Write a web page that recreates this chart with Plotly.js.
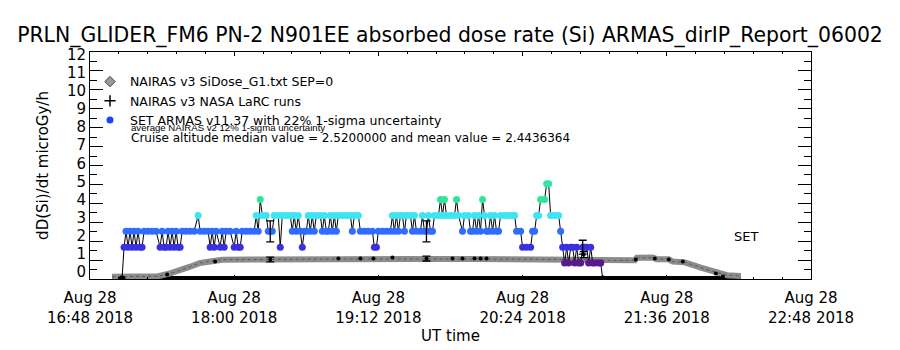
<!DOCTYPE html>
<html>
<head>
<meta charset="utf-8">
<script src="https://cdn.plot.ly/plotly-3.0.1.min.js"></script>
<style>html,body{margin:0;padding:0;background:#fff;}#chart{width:900px;height:350px;}</style>
</head>
<body>
<div id="chart"></div>
<script>
// ---- data (times are minutes after 2018-08-28 16:48 UT) ----
const setMin = [16,17,18,19,20,21,22,23,24,25,26,27,29,31,33,35,36,37,38,39,40,41,42,43,44,45,46,48,50,52,54,55,57,59,60,61,62,63,65,66,67,68,70,72,73,74,75,76,78,80,82,83,84,85,86,88,89,90,91,92,94,95,96,98,100,101,102,103,104,105,106,107,108,109,110,111,112,113,115,116,117,118,119,120,121,122,123,124,126,128,130,131,132,134,135,137,139,141,142,143,144,146,148,150,151,152,153,154,155,156,157,158,160,161,162,163,165,166,167,168,169,170,171,172,174,175,176,177,178,180,182,183,184,186,187,189,190,191,192,193,194,195,196,197,198,199,200,201,202,203,204,205,207,209,211,212,213,215,216,218,220,221,222,223,224,225,227,228,229,230,232,234,235,236,237,238,239,240,241,242,243,244,245,246,247,248,249,250,251,252,254,255,256];
const setDose = [0,1.68,2.52,1.68,2.52,1.68,2.52,1.68,2.52,1.68,1.68,2.52,2.52,2.52,2.52,1.68,2.52,1.68,1.68,2.52,1.68,2.52,1.68,2.52,1.68,1.68,2.52,2.52,2.52,2.52,3.36,2.52,2.52,2.52,1.68,2.52,1.68,2.52,1.68,2.52,1.68,2.52,2.52,1.68,2.52,1.68,1.68,2.52,2.52,2.52,2.52,3.36,2.52,4.2,3.36,3.36,2.52,2.52,2.52,3.36,3.36,1.68,3.36,3.36,3.36,2.52,3.36,2.52,3.36,2.52,1.68,2.52,2.52,3.36,2.52,3.36,2.52,3.36,3.36,2.52,3.36,2.52,2.52,3.36,2.52,3.36,2.52,3.36,3.36,3.36,3.36,2.52,3.36,3.36,2.52,2.52,2.52,2.52,1.68,1.68,2.52,2.52,2.52,2.52,3.36,2.52,3.36,2.52,3.36,3.36,2.52,3.36,3.36,2.52,3.36,2.52,2.52,3.36,2.52,2.52,3.36,2.52,2.52,3.36,3.36,4.2,3.36,4.2,3.36,3.36,3.36,4.2,3.36,2.52,3.36,3.36,2.52,2.52,3.36,2.52,3.36,2.52,4.2,3.36,2.52,2.52,3.36,2.52,3.36,2.52,2.52,3.36,3.36,3.36,3.36,3.36,2.52,2.52,1.68,1.68,1.68,2.52,2.52,3.36,3.36,4.2,4.2,5.04,5.04,3.36,3.36,3.36,2.52,1.68,0.84,1.68,0.84,1.68,1.68,0.84,1.68,0.84,0.84,1.68,1.68,1.68,0.84,1.68,0.84,0.84,0.84,0.84,0];
const setErrMin = [90,168,246];
const setErrDose = [2.52,2.52,1.68];
const groundMin = [11,325];
const groundDose = [0.08,0.08];
const nairasMin = [11,20,30,34,40,44,50,55,60,66,80,100,130,160,190,220,250,260,272,273,281,283,289,291,297,305,311,315,318,325];
const nairasDose = [0.12,0.12,0.13,0.15,0.3,0.42,0.65,0.85,0.95,1.02,1.03,1.05,1.06,1.06,1.06,1.05,1.02,0.98,0.99,1.12,1.13,1.05,1.04,0.92,0.88,0.6,0.4,0.3,0.2,0.16];
const larcMin = [38.5,62.5,90,124,135,141.5,151,168,181,186,192,195,198,246.5,272.5,282,289,296,312.5,316];
const larcDose = [0.24,0.92,1.03,1.08,1.08,1.08,1.13,1.08,1.08,1.08,1.08,1.08,1.08,1.29,1.03,1.08,1.03,0.92,0.29,0.13];
const larcErrMin = [90,168,246.5];
const larcErrDose = [1.03,1.08,1.29];
const yTickVals = [0,1,2,3,4,5,6,7,8,9,10,11,12];
const legendNames = ['NAIRAS v3 SiDose_G1.txt SEP=0','NAIRAS v3 NASA LaRC runs','SET ARMAS v11.37 with 22% 1-sigma uncertainty'];
const noteLines = ['average NAIRAS v2 12% 1-sigma uncertainty','Cruise altitude median value = 2.5200000 and mean value = 2.4436364'];

// ---- helpers ----
const T0 = Date.UTC(2018,7,28,16,48);
function toDate(m){ return new Date(T0 + m*60000).toISOString().replace('T',' ').slice(0,23); }
function doseColor(v){
  if (v <= 0.01) return '#000000';
  if (v < 1.2) return '#5a1890';
  if (v < 2.0) return '#3a30e0';
  if (v < 2.9) return '#2f6cff';
  if (v < 3.8) return '#3ce4f4';
  if (v < 4.6) return '#2ee69a';
  return '#30e6b0';
}
const FONT = 'DejaVu Sans';

const traces = [
  // ground-level black band
  {x: groundMin.map(toDate), y: groundDose, mode:'lines', line:{color:'#000', width:3}, showlegend:false, hoverinfo:'skip'},
  // NAIRAS v3 band
  {x: nairasMin.map(toDate), y: nairasDose, mode:'lines', line:{color:'#8c8c8c', width:6}, showlegend:false, hoverinfo:'skip'},
  {x: nairasMin.map(toDate), y: nairasDose, mode:'lines', line:{color:'#3a3a3a', width:1, dash:'dot'}, opacity:0.6, showlegend:false, hoverinfo:'skip'},
  // SET connecting line
  {x: setMin.map(toDate), y: setDose, mode:'lines', line:{color:'#000', width:1}, showlegend:false, hoverinfo:'skip'},
  // SET markers
  {x: setMin.map(toDate), y: setDose, mode:'markers', marker:{size:7, color:setDose.map(doseColor), line:{width:0}}, showlegend:false},
  // SET error bars
  {x: setErrMin.map(toDate), y: setErrDose, mode:'markers', marker:{size:1, color:'rgba(0,0,0,0)'},
   error_y:{type:'percent', value:22, color:'#000', thickness:1.3, width:4}, showlegend:false, hoverinfo:'skip'},
  // NASA LaRC points
  {x: larcMin.map(toDate), y: larcDose, mode:'markers', marker:{symbol:'circle', size:4, color:'#000'}, showlegend:false},
  {x: larcErrMin.map(toDate), y: larcErrDose, mode:'markers', marker:{size:1, color:'rgba(0,0,0,0)'},
   error_y:{type:'percent', value:12, color:'#000', thickness:1.3, width:4}, showlegend:false, hoverinfo:'skip'},
  // legend entries
  {x:[null], y:[null], mode:'markers', name:legendNames[0], marker:{symbol:'diamond', size:8, color:'#9a9a9a', line:{color:'#444', width:1}}},
  {x:[null], y:[null], mode:'markers', name:legendNames[1], marker:{symbol:'cross-thin-open', size:8, color:'#000', line:{color:'#000', width:1.5}}},
  {x:[null], y:[null], mode:'markers', name:legendNames[2], marker:{symbol:'circle', size:7, color:'#2040ff'}},
  // empty trace for the label axis
  {x:[], y:[], yaxis:'y2', showlegend:false, hoverinfo:'skip'}
];

const layout = {
  width:900, height:350,
  margin:{l:90, r:89, t:52, b:70.5},
  paper_bgcolor:'#fff', plot_bgcolor:'#fff',
  font:{family:FONT, color:'#000'},
  showlegend:true,
  title:{text:'PRLN_GLIDER_FM6 PN-2 N901EE absorbed dose rate (Si) ARMAS_dirIP_Report_06002',
         font:{family:FONT, size:20.4, color:'#000'}, x:0.5, xanchor:'center', yref:'container', y:1-35/350, yanchor:'middle'},
  xaxis:{type:'date', range:[toDate(0), toDate(360)], tick0:toDate(0), dtick:72*60000,
         tickformat:'%b %d<br>%H:%M %Y', ticks:'inside', ticklen:4, tickcolor:'#000',
         minor:{dtick:14.4*60000, ticks:'inside', ticklen:2, tickcolor:'#000'},
         showline:true, linecolor:'#000', linewidth:1, mirror:'ticks', showgrid:false, zeroline:false,
         tickfont:{family:FONT, size:15, color:'#000'}, ticklabelstandoff:5,
         title:{text:'UT time', font:{family:FONT, size:15, color:'#000'}, standoff:2}},
  yaxis:{range:[0,12], tickvals:yTickVals, ticks:'inside', ticklen:13, tickcolor:'#000',
         minor:{dtick:0.5, ticks:'inside', ticklen:7, tickcolor:'#000'},
         showline:true, linecolor:'#000', linewidth:1, mirror:'ticks', showgrid:false, zeroline:false,
         showticklabels:false,
         title:{text:'dD(Si)/dt microGy/h', font:{family:FONT, size:15, color:'#000'}, standoff:36}},
  yaxis2:{overlaying:'y', side:'left', range:[-0.415, 12.166], tickvals:yTickVals, ticks:'',
          showline:false, showgrid:false, zeroline:false, showticklabels:true,
          tickfont:{family:FONT, size:15, color:'#000'}, ticklabelstandoff:3},
  legend:{x:(90-90)/721, xanchor:'left', y:(279.5-67)/227.5, yanchor:'top', bgcolor:'rgba(0,0,0,0)',
          font:{family:FONT, size:12.5, color:'#000'}, tracegroupgap:0, borderwidth:0},
  annotations:[
    {xref:'paper', yref:'paper', x:(129-90)/721, xanchor:'left', y:(279.5-127.5)/227.5, yanchor:'middle',
     text:noteLines[0], showarrow:false, font:{family:'Liberation Sans', size:9.6, color:'#000'}},
    {xref:'paper', yref:'paper', x:(129-90)/721, xanchor:'left', y:(279.5-138.5)/227.5, yanchor:'middle',
     text:noteLines[1], showarrow:false, font:{family:FONT, size:12, color:'#000'}},
    {xref:'x', yref:'y', x:toDate(327.5), y:2.24, text:'SET', showarrow:false, font:{family:FONT, size:13, color:'#000'}}
  ]
};

Plotly.newPlot('chart', traces, layout, {staticPlot:true, displayModeBar:false});
</script>
</body>
</html>
